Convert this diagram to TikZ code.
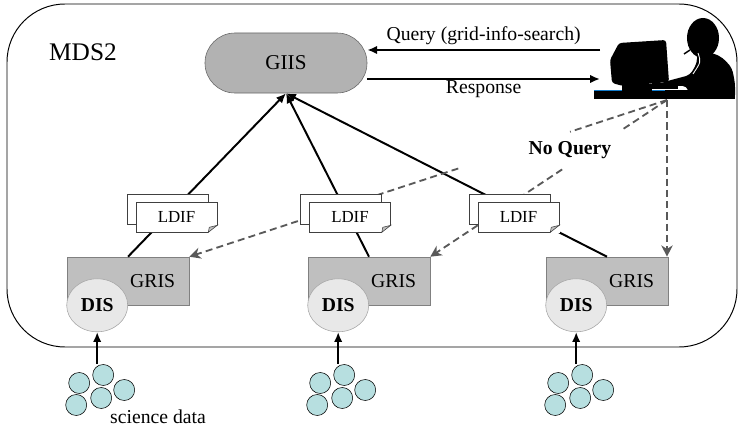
\documentclass[tikz,border=0pt]{standalone}
\usepackage{fontspec}
\setmainfont{Liberation Serif}
\usetikzlibrary{arrows.meta,positioning,calc,shadows,shapes.geometric}
\definecolor{datacol}{HTML}{B7DFE0}

\begin{document}
\begin{tikzpicture}[x=0.025cm,y=-0.025cm,>={Latex[length=7pt,width=6pt]},
    every node/.style={font=\fontsize{14}{16}\selectfont},
    gris/.style={draw=black!50, fill=black!25, minimum width=3.05cm, minimum height=1.2cm,
      text width=2.35cm, inner xsep=0.35cm, align=right},
    dis/.style={ellipse, draw=black!35, fill=black!9, minimum width=1.525cm,
      minimum height=1.325cm, inner sep=0pt, font=\fontsize{14}{16}\selectfont\bfseries},
    ldif/.style={draw=black!75, fill=white, minimum width=2.025cm, minimum height=0.75cm,
      font=\fontsize{12}{14}\selectfont,
      copy shadow={shadow xshift=-0.225cm, shadow yshift=0.2cm, fill=white, draw=black!75}},
    datum/.style={circle, draw, fill=datacol, minimum size=0.525cm, inner sep=0pt},
    update/.style={->, line width=1.4pt},
    nq/.style={dash pattern=on 5pt off 3pt, line width=1.3pt, draw=black!65},
    nq arrow/.style={nq, -{Stealth[length=8pt,width=8pt,inset=2.5pt]}, black!65}]
  \useasboundingbox (0,0) rectangle (739,427);

  % MDS2 boundary
  \draw[line width=0.7pt, rounded corners=1.45cm] (7,4) rectangle (737,347);
  \node (mds) at (83,52) [font=\fontsize{18}{20}\selectfont] {MDS2};

  % user at the workstation
  \fill[rounded corners=2pt] (610,60) -- (619,43) -- (666,40) -- (669,82) -- (623,86) -- (612,83) -- cycle;
  \fill (622,84) rectangle (652,91);
  \fill (652,83) rectangle (678,89);
  \fill (594,90) rectangle (735,99);
  \draw[cyan!60!blue, line width=0.5pt] (594,90) -- (622,90) (652,90) -- (665,90);
  \fill (703,38) ellipse [x radius=0.4cm, y radius=0.5cm];
  \fill[rounded corners=3pt] (697,52) -- (713,53) -- (723,58) -- (732,68) -- (735,83) -- (735,99)
    -- (690,99) -- (687,86) -- (662,86) -- (660,83) -- (690,75) -- (697,63) -- cycle;
  \draw[white, line width=0.6pt] (698,53) .. controls (701,62) .. (693,74);
  \draw[line width=1pt] (684,54) -- (690,50);
  \coordinate (desk) at (667,100);
  \coordinate (user-q) at (600,50);
  \coordinate (user-r) at (600,79);

  % index server and resource servers
  \node (giis) at (286,63) [draw=black!60, fill=black!30, rounded corners=0.75cm,
    minimum width=4.05cm, minimum height=1.5cm, font=\fontsize{15}{17}\selectfont] {GIIS};
  \node (gris1) at (128,281) [gris] {GRIS};
  \node (gris2) at (369,281) [gris] {GRIS};
  \node (gris3) at (607,281) [gris] {GRIS};
  \foreach \n in {1,2,3}
    \node (dis\n) at ($(gris\n.south west)+(30.5,0)$) [dis] {DIS};

  % registrations
  \foreach \n in {1,2,3}
    \draw[update] (gris\n.north) -- (giis.south);

  % queries that are not sent
  \draw[nq] (desk) -- ($(desk)!0.203!(gris1.north east)$);
  \draw[nq arrow] ($(desk)!0.437!(gris1.north east)$) -- (gris1.north east);
  \draw[nq] (desk) -- ($(desk)!0.186!(gris2.north east)$);
  \draw[nq arrow] ($(desk)!0.443!(gris2.north east)$) -- (gris2.north east);
  \draw[nq arrow] (desk) -- (desk |- gris3.north east);
  \node (noq) at (570,150) [font=\fontsize{14}{16}\selectfont\bfseries] {No Query};

  % LDIF documents
  \node (ldif1) at (176.5,217) [ldif] {LDIF};
  \node (ldif2) at (350,217) [ldif] {LDIF};
  \node (ldif3) at (518.5,217) [ldif] {LDIF};
  \foreach \n in {1,2,3} {
    \fill[white] (ldif\n.south east) +(0.5,-7) -- +(0.5,0.5) -- +(-9,0.5) -- cycle;
    \draw[black!75, fill=black!25, line width=0.4pt] ($(ldif\n.south east)+(0,-7)$)
      -- ($(ldif\n.south east)+(-9,0)$) -- ($(ldif\n.south east)+(-8,-5)$) -- cycle;
  }

  % query and response
  \draw[->, line width=1.5pt] (user-q) -- (giis.east |- user-q)
    node[midway, above] {Query (grid-info-search)};
  \draw[->, line width=1.5pt] (giis.east |- user-r) -- (user-r)
    node[midway, below=-3pt] {Response};

  % science data feeding each DIS
  \foreach \n in {1,2,3} {
    \foreach \k/\dx/\y in {1/-18/383, 2/6/375, 3/27/390, 4/4/398, 5/-21/405}
      \node (d\n-\k) [datum] at ($(dis\n.center |- 0,\y)+(\dx,0)$) {};
    \draw[update] (dis\n.south |- d\n-2.north) -- (dis\n.south);
  }
  \node (sci) at (158,417) {science data};
\end{tikzpicture}
\end{document}
